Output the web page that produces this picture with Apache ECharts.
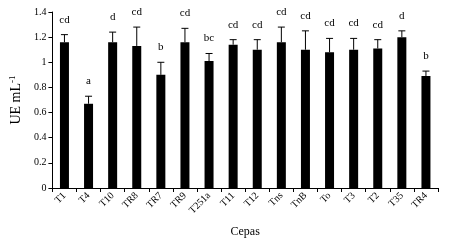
<!DOCTYPE html>
<html>
<head>
<meta charset="utf-8">
<script src="https://cdn.jsdelivr.net/npm/echarts@6/dist/echarts.min.js"></script>
<style>
html,body{margin:0;padding:0;background:#fff;}
#main{width:454px;height:243px;}
</style>
</head>
<body>
<div id="main"></div>
<script>
// cepas y valores UE mL-1
var cepas = ['T1','T4','T10','TR8','TR7','TR9','T251a','T11','T12','Tns','TnB','To','T3','T2','T35','TR4'];
var valores = [1.16,0.67,1.16,1.13,0.90,1.16,1.01,1.14,1.10,1.16,1.10,1.08,1.10,1.11,1.20,0.89];
var errores = [0.06,0.06,0.08,0.15,0.10,0.11,0.06,0.04,0.08,0.12,0.15,0.11,0.09,0.07,0.05,0.04];
var letras = ['cd','a','d','cd','b','cd','bc','cd','cd','cd','cd','cd','cd','cd','d','b'];

var fuente = '"Liberation Serif","Times New Roman",serif';

var errData = [];
for (var i = 0; i < cepas.length; i++) {
    errData.push([i, valores[i], errores[i], letras[i]]);
}

var myChart = echarts.init(document.getElementById('main'));
var option = {
    backgroundColor: '#fff',
    animation: false,
    grid: { left: 40, right: 16, top: 12, bottom: 53 },
    xAxis: {
        type: 'category',
        data: cepas,
        name: 'Cepas',
        nameLocation: 'middle',
        nameGap: 38,
        nameTextStyle: { fontFamily: fuente, fontSize: 12, color: '#000' },
        axisLine: { lineStyle: { color: '#000', width: 1 } },
        axisTick: { show: true, alignWithLabel: false, length: 4, lineStyle: { color: '#000' } },
        axisLabel: { rotate: 45, interval: 0, fontFamily: fuente, fontSize: 10, color: '#000', margin: 6 }
    },
    yAxis: {
        type: 'value',
        min: 0,
        max: 1.4,
        interval: 0.2,
        name: 'UE mL{sup|-1}',
        nameLocation: 'middle',
        nameGap: 28,
        nameRotate: 90,
        nameTextStyle: {
            fontFamily: fuente, fontSize: 14, color: '#000',
            rich: { sup: { fontFamily: fuente, fontSize: 9, color: '#000', verticalAlign: 'top', padding: [0, 0, 7, 0] } }
        },
        splitLine: { show: false },
        axisLine: { show: true, lineStyle: { color: '#000', width: 1 } },
        axisTick: { show: true, length: 4, inside: false, lineStyle: { color: '#000' } },
        axisLabel: { fontFamily: fuente, fontSize: 10, color: '#000', margin: 6 }
    },
    series: [
        {
            type: 'bar',
            data: valores,
            barWidth: 9,
            itemStyle: { color: '#000' }
        },
        {
            type: 'custom',
            data: errData,
            z: 10,
            renderItem: function (params, api) {
                var x = api.value(0);
                var v = api.value(1);
                var e = api.value(2);
                var base = api.coord([x, v]);
                var top = api.coord([x, v + e]);
                return {
                    type: 'group',
                    children: [
                        { type: 'line', shape: { x1: base[0], y1: base[1], x2: top[0], y2: top[1] }, style: { stroke: '#000', lineWidth: 1 } },
                        { type: 'line', shape: { x1: top[0] - 3.5, y1: top[1], x2: top[0] + 3.5, y2: top[1] }, style: { stroke: '#000', lineWidth: 1 } },
                        { type: 'text', x: top[0], y: top[1] - 15, style: { text: letras[params.dataIndex], fontFamily: fuente, fontSize: 11, fill: '#000', align: 'center', verticalAlign: 'middle' } }
                    ]
                };
            }
        }
    ]
};
myChart.setOption(option);
</script>
</body>
</html>
